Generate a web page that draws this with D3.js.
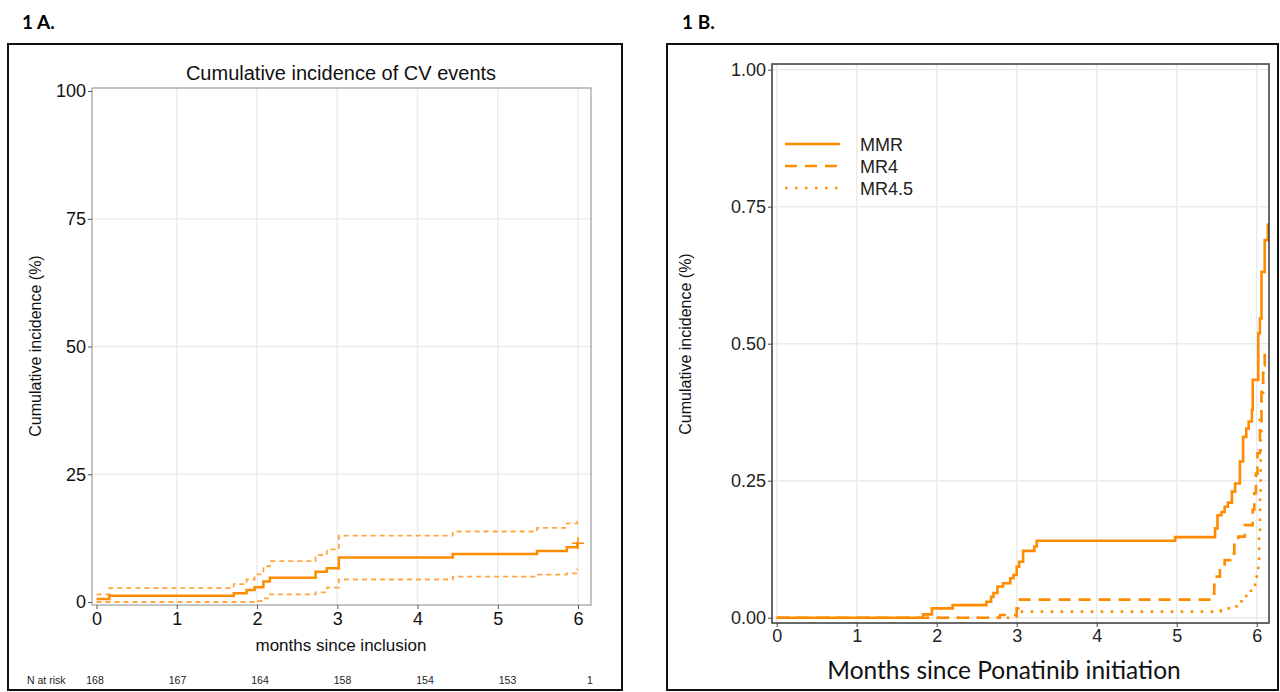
<!DOCTYPE html>
<html>
<head>
<meta charset="utf-8">
<script src="https://cdn.jsdelivr.net/npm/d3@7"></script>
<style>
  body { margin: 0; background: #fff; }
  svg { display: block; }
</style>
</head>
<body>
<div id="chart"></div>
<script>
// Panel A: cumulative incidence of CV events (%)
const timesA = [0, 0.16, 1.71, 1.87, 1.97, 2.08, 2.16, 2.73, 2.87, 3.02, 4.44, 5.49, 5.86, 5.99, 6.0];
const estA   = [0.6, 1.2, 1.7, 2.35, 2.9, 4.0, 4.75, 5.9, 6.6, 8.7, 9.4, 10.0, 10.7, 11.5, 11.5];
const upperA = [1.5, 2.7, 3.5, 4.4, 5.4, 7.0, 8.0, 9.2, 10.3, 13.0, 13.8, 14.5, 15.4, 16.2, 16.2];
const lowerA = [0, 0, 0, 0, 0.2, 0.7, 1.5, 1.9, 2.8, 4.4, 4.95, 5.35, 5.6, 6.4, 6.4];
const ticksXA = [0, 1, 2, 3, 4, 5, 6];
const ticksYA = [0, 25, 50, 75, 100];
const riskA = [168, 167, 164, 158, 154, 153, 1];

// Panel B: by molecular response
const timesMMR = [0, 1.83, 1.94, 2.20, 2.62, 2.68, 2.71, 2.76, 2.83, 2.92, 2.96, 3.00, 3.03, 3.08, 3.22, 3.25, 4.98, 5.48, 5.51, 5.56, 5.60, 5.64, 5.69, 5.73, 5.79, 5.83, 5.87, 5.90, 5.94, 5.95, 6.02, 6.04, 6.06, 6.10, 6.14];
const valsMMR  = [0, 0.006, 0.017, 0.023, 0.029, 0.038, 0.045, 0.057, 0.063, 0.072, 0.078, 0.093, 0.102, 0.122, 0.130, 0.1405, 0.147, 0.163, 0.187, 0.193, 0.2025, 0.21, 0.23, 0.245, 0.285, 0.33, 0.345, 0.358, 0.379, 0.434, 0.519, 0.546, 0.631, 0.689, 0.72];
const timesMR4 = [0, 2.79, 3.00, 3.02, 5.44, 5.47, 5.50, 5.54, 5.60, 5.67, 5.72, 5.77, 5.85, 5.95, 5.97, 5.99, 6.01, 6.04, 6.06, 6.08, 6.10];
const valsMR4  = [0, 0.005, 0.017, 0.033, 0.044, 0.060, 0.075, 0.090, 0.105, 0.117, 0.133, 0.148, 0.169, 0.197, 0.227, 0.263, 0.30, 0.361, 0.42, 0.46, 0.488];
const timesMR45 = [0, 3.00, 5.55, 5.65, 5.70, 5.75, 5.81, 5.87, 5.93, 5.98, 6.00, 6.02, 6.03, 6.04, 6.05, 6.06, 6.08];
const valsMR45  = [0, 0.011, 0.013, 0.017, 0.021, 0.026, 0.035, 0.044, 0.053, 0.063, 0.075, 0.093, 0.155, 0.227, 0.337, 0.397, 0.45];
const ticksXB = [0, 1, 2, 3, 4, 5, 6];
const ticksYB = [0, 0.25, 0.5, 0.75, 1];
const legendB = ["MMR", "MR4", "MR4.5"];

const orange = "#ff8c00";
const sans = "'Liberation Sans', Arial, sans-serif";
const calibri = "Lato, 'Open Sans', sans-serif";

const W = 1280, H = 692;
const svg = d3.select("#chart").append("svg").attr("width", W).attr("height", H);
svg.append("rect").attr("width", W).attr("height", H).attr("fill", "#fff");

const zip = (xs, ys) => xs.map((t, i) => ({ t: t, v: ys[i] }));

/* ---------------- Panel A ---------------- */
svg.append("text").attr("x", 22).attr("y", 29)
  .style("font-family", calibri).style("font-weight", "700").style("font-size", "19px")
  .text("1 A.");
svg.append("rect").attr("x", 8).attr("y", 44).attr("width", 614).attr("height", 646)
  .attr("fill", "none").attr("stroke", "#111").attr("stroke-width", 2);

const xA = d3.scaleLinear().domain([0, 6]).range([96.5, 578]);
const yA = d3.scaleLinear().domain([0, 100]).range([602, 91]);
const frameA = { l: 92, r: 591, t: 88, b: 605 };

const gA = svg.append("g");
// grid
gA.selectAll(".gxa").data(ticksXA.slice(1)).enter().append("line")
  .attr("x1", d => xA(d)).attr("x2", d => xA(d)).attr("y1", frameA.t).attr("y2", frameA.b)
  .attr("stroke", "#ececec").attr("stroke-width", 1.5);
gA.selectAll(".gya").data(ticksYA.slice(1, 4)).enter().append("line")
  .attr("x1", frameA.l).attr("x2", frameA.r).attr("y1", d => yA(d)).attr("y2", d => yA(d))
  .attr("stroke", "#ececec").attr("stroke-width", 1.5);
gA.append("rect").attr("x", frameA.l).attr("y", frameA.t)
  .attr("width", frameA.r - frameA.l).attr("height", frameA.b - frameA.t)
  .attr("fill", "none").attr("stroke", "#8a8a8a").attr("stroke-width", 1);

// axes
gA.append("g").attr("transform", `translate(${frameA.l},0)`)
  .call(d3.axisLeft(yA).tickValues(ticksYA).tickSize(4).tickPadding(2))
  .call(g => g.select(".domain").remove())
  .call(g => g.selectAll("line").attr("stroke", "#555"))
  .call(g => g.selectAll("text").style("font-family", sans).style("font-size", "18px").attr("fill", "#111"));
gA.append("g").attr("transform", `translate(0,${frameA.b})`)
  .call(d3.axisBottom(xA).tickValues(ticksXA).tickFormat(d3.format("d")).tickSize(4).tickPadding(3))
  .call(g => g.select(".domain").remove())
  .call(g => g.selectAll("line").attr("stroke", "#555"))
  .call(g => g.selectAll("text").style("font-family", sans).style("font-size", "18px").attr("fill", "#111"));

const lineA = d3.line().x(d => xA(d.t)).y(d => yA(d.v)).curve(d3.curveStepAfter);
gA.append("path").datum(zip(timesA, upperA)).attr("d", lineA)
  .attr("fill", "none").attr("stroke", "#ffa640").attr("stroke-width", 1.8).attr("stroke-dasharray", "5,4");
gA.append("path").datum(zip(timesA, lowerA)).attr("d", lineA)
  .attr("fill", "none").attr("stroke", "#ffa640").attr("stroke-width", 1.8).attr("stroke-dasharray", "5,4");
gA.append("path").datum(zip(timesA, estA)).attr("d", lineA)
  .attr("fill", "none").attr("stroke", orange).attr("stroke-width", 2.5);
// censor mark
const lastA = timesA.length - 1;
gA.append("path")
  .attr("d", `M${xA(timesA[lastA]) - 6},${yA(estA[lastA])}h12M${xA(timesA[lastA])},${yA(estA[lastA]) - 6}v12`)
  .attr("stroke", orange).attr("stroke-width", 1.5);

// labels
gA.append("text").attr("x", 341).attr("y", 80).attr("text-anchor", "middle")
  .style("font-family", sans).style("font-size", "20px").attr("fill", "#111")
  .text("Cumulative incidence of CV events");
gA.append("text").attr("x", 341).attr("y", 651).attr("text-anchor", "middle")
  .style("font-family", sans).style("font-size", "17px").attr("fill", "#111")
  .text("months since inclusion");
gA.append("text").attr("transform", "translate(41,346) rotate(-90)").attr("text-anchor", "middle")
  .style("font-family", sans).style("font-size", "16px").attr("fill", "#111")
  .text("Cumulative incidence (%)");

// risk table
const xRisk = d3.scaleLinear().domain([0, 6]).range([95, 590]);
gA.append("text").attr("x", 27).attr("y", 684)
  .style("font-family", sans).style("font-size", "10.5px").attr("fill", "#222")
  .text("N at risk");
gA.selectAll(".risk").data(riskA).enter().append("text")
  .attr("x", (d, i) => xRisk(ticksXA[i])).attr("y", 684).attr("text-anchor", "middle")
  .style("font-family", sans).style("font-size", "10.5px").attr("fill", "#222")
  .text(d => d);

/* ---------------- Panel B ---------------- */
svg.append("text").attr("x", 682).attr("y", 29)
  .style("font-family", calibri).style("font-weight", "700").style("font-size", "19px")
  .text("1 B.");
svg.append("rect").attr("x", 667).attr("y", 44).attr("width", 611).attr("height", 646)
  .attr("fill", "none").attr("stroke", "#111").attr("stroke-width", 2);

const xB = d3.scaleLinear().domain([0, 6]).range([776.7, 1256.7]);
const yB = d3.scaleLinear().domain([0, 1]).range([617.7, 69.7]);
const frameB = { l: 772, r: 1269, t: 64, b: 623 };

const gB = svg.append("g");
gB.selectAll(".gxb").data(ticksXB).enter().append("line")
  .attr("x1", d => xB(d)).attr("x2", d => xB(d)).attr("y1", frameB.t).attr("y2", frameB.b)
  .attr("stroke", "#ebebeb").attr("stroke-width", 1.5);
gB.selectAll(".gyb").data(ticksYB).enter().append("line")
  .attr("x1", frameB.l).attr("x2", frameB.r).attr("y1", d => yB(d)).attr("y2", d => yB(d))
  .attr("stroke", "#ebebeb").attr("stroke-width", 1.5);

gB.append("g").attr("transform", `translate(${frameB.l},0)`)
  .call(d3.axisLeft(yB).tickValues(ticksYB).tickFormat(d3.format(".2f")).tickSize(4).tickPadding(2))
  .call(g => g.select(".domain").remove())
  .call(g => g.selectAll("line").attr("stroke", "#444"))
  .call(g => g.selectAll("text").style("font-family", sans).style("font-size", "18px").attr("fill", "#222"));
gB.append("g").attr("transform", `translate(0,${frameB.b})`)
  .call(d3.axisBottom(xB).tickValues(ticksXB).tickFormat(d3.format("d")).tickSize(4).tickPadding(2))
  .call(g => g.select(".domain").remove())
  .call(g => g.selectAll("line").attr("stroke", "#444"))
  .call(g => g.selectAll("text").style("font-family", sans).style("font-size", "18px").attr("fill", "#222"));

const lineB = d3.line().x(d => xB(d.t)).y(d => yB(d.v)).curve(d3.curveStepAfter);
gB.append("path").datum(zip(timesMR45, valsMR45)).attr("d", lineB)
  .attr("fill", "none").attr("stroke", orange).attr("stroke-width", 2.6).attr("stroke-dasharray", "2.5,7.5");
gB.append("path").datum(zip(timesMR4, valsMR4)).attr("d", lineB)
  .attr("fill", "none").attr("stroke", orange).attr("stroke-width", 2.6).attr("stroke-dasharray", "12,8");
gB.append("path").datum(zip(timesMMR, valsMMR)).attr("d", lineB)
  .attr("fill", "none").attr("stroke", orange).attr("stroke-width", 2.6);

gB.append("rect").attr("x", frameB.l).attr("y", frameB.t)
  .attr("width", frameB.r - frameB.l).attr("height", frameB.b - frameB.t)
  .attr("fill", "none").attr("stroke", "#444").attr("stroke-width", 1.6);

// legend
const dashes = [null, "12,8", "2.5,7.5"];
const lg = gB.append("g").attr("transform", "translate(785,144)");
legendB.forEach((name, i) => {
  lg.append("line").attr("x1", 0).attr("x2", 55).attr("y1", i * 22).attr("y2", i * 22)
    .attr("stroke", orange).attr("stroke-width", 2.6)
    .attr("stroke-dasharray", dashes[i]);
  lg.append("text").attr("x", 75).attr("y", i * 22 + 7)
    .style("font-family", sans).style("font-size", "18px").attr("fill", "#222")
    .text(name);
});

gB.append("text").attr("x", 1004).attr("y", 679).attr("text-anchor", "middle")
  .style("font-family", calibri).style("font-size", "24.5px").attr("fill", "#111")
  .text("Months since Ponatinib initiation");
gB.append("text").attr("transform", "translate(691,344) rotate(-90)").attr("text-anchor", "middle")
  .style("font-family", sans).style("font-size", "16px").attr("fill", "#111")
  .text("Cumulative incidence (%)");
</script>
</body>
</html>
